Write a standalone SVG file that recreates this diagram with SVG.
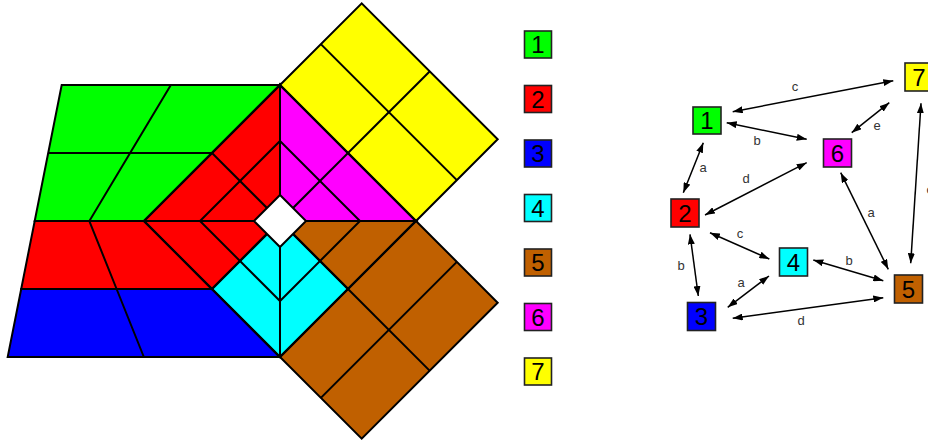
<svg xmlns="http://www.w3.org/2000/svg" width="928" height="441" viewBox="0 0 928 441">
<style>
.ln{stroke:#000;stroke-width:2;fill:none;stroke-linejoin:miter}
.pf{stroke:#000;stroke-width:2;stroke-linejoin:miter}
.box{stroke:#222;stroke-width:1.6}
.num{font-family:"Liberation Sans",Arial,sans-serif;font-size:24px;text-anchor:middle;fill:#000}
.lbl{font-family:"Liberation Sans",Arial,sans-serif;font-size:13px;text-anchor:middle;fill:#333}
.edge{stroke:#000;stroke-width:1.5;fill:none;marker-start:url(#ah);marker-end:url(#ah)}
</style>
<defs>
<marker id="ah" viewBox="0 0 10 7" refX="10" refY="3.5" markerWidth="10" markerHeight="7" markerUnits="userSpaceOnUse" orient="auto-start-reverse">
<path d="M0,0 L10,3.5 L0,7 z" fill="#000"/>
</marker>
</defs>
<rect width="928" height="441" fill="#fff"/>
<g id="pattern">
<polygon class="pf" fill="#00ff00" points="61.7,85 280,85 144,221 34.7,221"/>
<polygon class="pf" fill="#ff0000" points="34.7,221 144,221 212,289 21.2,289"/>
<polygon class="pf" fill="#0000ff" points="21.2,289 212,289 280,357 7.7,357"/>
<polygon class="pf" fill="#ff0000" points="280,85 144,221 212,289 280,221"/>
<polygon class="pf" fill="#ff00ff" points="280,85 416,221 280,221"/>
<polygon class="pf" fill="#c06000" points="280,221 416,221 348,289"/>
<polygon class="pf" fill="#00ffff" points="280,221 348,289 280,357 212,289"/>
<polygon class="pf" fill="#ffff00" points="280,85 361.7,3.3 497.7,139.3 416,221"/>
<polygon class="pf" fill="#c06000" points="416,221 497.7,302.7 361.7,438.7 280,357"/>
<polyline class="ln" points="170.85,85 130.1,153 89.35,221 116.6,289 143.85,357"/>
<line class="ln" x1="48.2" y1="153" x2="212" y2="153"/>
<line class="ln" x1="212" y1="153" x2="348" y2="289"/>
<line class="ln" x1="348" y1="153" x2="212" y2="289"/>
<polygon class="ln" points="280,141 360,221 280,301 200,221"/>
<line class="ln" x1="280" y1="85" x2="280" y2="357"/>
<line class="ln" x1="144" y1="221" x2="416" y2="221"/>
<polygon class="ln" points="280,85 416,221 280,357 144,221"/>
<line class="ln" x1="320.85" y1="44.15" x2="456.85" y2="180.15"/>
<line class="ln" x1="348" y1="153" x2="429.85" y2="71.3"/>
<line class="ln" x1="320.85" y1="397.85" x2="456.85" y2="261.85"/>
<line class="ln" x1="348" y1="289" x2="429.85" y2="370.85"/>
<polygon class="pf" fill="#fff" points="254,221 280,195 306,221 280,247"/>
</g>
<g id="legend">
<g id="leg1"><rect class="box" x="524.5" y="31" width="27" height="27" fill="#00ff00"/><text class="num" x="538" y="53">1</text></g>
<g id="leg2"><rect class="box" x="524.5" y="85.5" width="27" height="27" fill="#ff0000"/><text class="num" x="538" y="107.5">2</text></g>
<g id="leg3"><rect class="box" x="524.5" y="140" width="27" height="27" fill="#0000ff"/><text class="num" x="538" y="162">3</text></g>
<g id="leg4"><rect class="box" x="524.5" y="194.5" width="27" height="27" fill="#00ffff"/><text class="num" x="538" y="216.5">4</text></g>
<g id="leg5"><rect class="box" x="524.5" y="249" width="27" height="27" fill="#c06000"/><text class="num" x="538" y="271">5</text></g>
<g id="leg6"><rect class="box" x="524.5" y="303.5" width="27" height="27" fill="#ff00ff"/><text class="num" x="538" y="325.5">6</text></g>
<g id="leg7"><rect class="box" x="524.5" y="358" width="27" height="27" fill="#ffff00"/><text class="num" x="538" y="380">7</text></g>
</g>
<g id="connectors">
<line class="edge" x1="732.7" y1="111.7" x2="893.3" y2="80.7"/>
<line class="edge" x1="726.7" y1="122.7" x2="806.7" y2="139.3"/>
<line class="edge" x1="851.7" y1="132.7" x2="889.3" y2="102.7"/>
<line class="edge" x1="703.3" y1="142.7" x2="683.3" y2="192.7"/>
<line class="edge" x1="705" y1="215" x2="806.7" y2="162.7"/>
<line class="edge" x1="840.7" y1="172.7" x2="888.3" y2="269.3"/>
<line class="edge" x1="921" y1="103.3" x2="910.7" y2="263.3"/>
<line class="edge" x1="710" y1="232.7" x2="769.3" y2="259"/>
<line class="edge" x1="690" y1="234.3" x2="698.3" y2="296"/>
<line class="edge" x1="727.7" y1="307.3" x2="769" y2="276"/>
<line class="edge" x1="813.3" y1="260" x2="883.3" y2="280.7"/>
<line class="edge" x1="732.7" y1="318.3" x2="883.3" y2="297.7"/>
<text class="lbl" x="795" y="91">c</text>
<text class="lbl" x="757" y="145">b</text>
<text class="lbl" x="877" y="130">e</text>
<text class="lbl" x="703" y="172">a</text>
<text class="lbl" x="746" y="183">d</text>
<text class="lbl" x="871" y="217">a</text>
<text class="lbl" x="740" y="238">c</text>
<text class="lbl" x="681" y="270">b</text>
<text class="lbl" x="741" y="287">a</text>
<text class="lbl" x="849" y="265">b</text>
<text class="lbl" x="801" y="325">d</text>
<text class="lbl" x="926.5" y="194" style="text-anchor:start">c</text>
</g>
<g id="n1"><rect class="box" x="693" y="107" width="28" height="27" fill="#00ff00"/><text class="num" x="707" y="129">1</text></g>
<g id="n2"><rect class="box" x="671" y="199" width="28" height="28" fill="#ff0000"/><text class="num" x="685" y="221.5">2</text></g>
<g id="n3"><rect class="box" x="687.5" y="302.5" width="28" height="28" fill="#0000ff"/><text class="num" x="701.5" y="325">3</text></g>
<g id="n4"><rect class="box" x="779.5" y="248" width="28" height="28" fill="#00ffff"/><text class="num" x="793.5" y="270.5">4</text></g>
<g id="n5"><rect class="box" x="894.5" y="275" width="28" height="28" fill="#c06000"/><text class="num" x="908.5" y="297.5">5</text></g>
<g id="n6"><rect class="box" x="823.5" y="139" width="28" height="28" fill="#ff00ff"/><text class="num" x="837.5" y="161.5">6</text></g>
<g id="n7"><rect class="box" x="905" y="63" width="28" height="28" fill="#ffff00"/><text class="num" x="919" y="85.5">7</text></g>
</svg>
